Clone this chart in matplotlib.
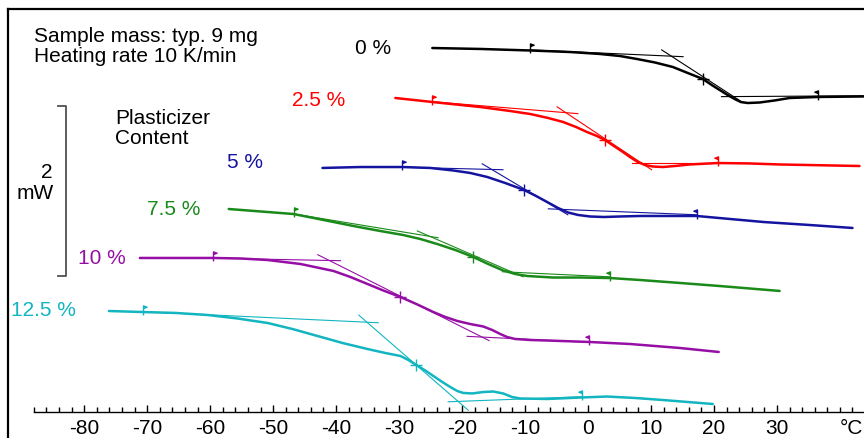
import numpy as np
import matplotlib.pyplot as plt
from matplotlib.path import Path
from matplotlib.ticker import FixedLocator

plt.rcParams['font.family'] = ['Liberation Sans', 'DejaVu Sans']
plt.rcParams['axes.unicode_minus'] = False

# DSC heat flow curves, temperature in °C, heat flow in mW (curves offset for stacking)
labels = ['0 %', '2.5 %', '5 %', '7.5 %', '10 %', '12.5 %']
colors = ['#000000', '#ff0000', '#1414a0', '#1a8a1a', '#960fa5', '#12b5c0']

t_0 = [-24.72, -17.12, -9.19, -2.85, 1.90, 5.07, 7.77, 10.62, 13.47, 15.85, 18.23,
       19.65, 20.92, 22.19, 23.30, 24.25, 25.36, 27.26, 29.64, 32.01, 36.45, 43.74]
q_0 = [4.282, 4.271, 4.253, 4.235, 4.212, 4.188, 4.153, 4.112, 4.059, 3.988, 3.918,
       3.847, 3.788, 3.729, 3.682, 3.647, 3.635, 3.641, 3.665, 3.694, 3.706, 3.712]

t_25 = [-30.59, -24.72, -17.12, -12.36, -9.19, -6.34, -3.96, -1.90, -0.16, 1.43, 2.69,
        4.12, 5.55, 6.66, 7.77, 9.03, 10.30, 11.89, 13.79, 16.16, 20.60, 25.67, 30.43, 43.11]
q_25 = [3.694, 3.647, 3.588, 3.541, 3.506, 3.459, 3.412, 3.353, 3.294, 3.247, 3.200,
        3.129, 3.059, 3.000, 2.947, 2.906, 2.888, 2.882, 2.894, 2.912, 2.929, 2.924, 2.912, 2.894]

t_5 = [-42.16, -36.13, -29.48, -25.04, -21.39, -18.70, -16.01, -13.15, -10.14, -8.24,
       -6.50, -4.75, -3.17, -1.58, 0.32, 2.54, 5.07, 8.24, 17.27, 22.50, 27.89, 35.18, 42.00]
q_5 = [2.871, 2.882, 2.882, 2.871, 2.841, 2.812, 2.765, 2.694, 2.612, 2.541,
       2.471, 2.400, 2.347, 2.318, 2.300, 2.294, 2.300, 2.306, 2.306, 2.271, 2.235, 2.200, 2.165]

t_75 = [-57.05, -51.98, -46.75, -42.00, -37.24, -32.96, -29.32, -26.62, -23.93, -21.08,
        -18.23, -15.85, -13.47, -11.57, -9.67, -5.55, -1.27, 3.49, 8.24, 14.58, 20.92, 30.43]
q_75 = [2.388, 2.359, 2.329, 2.259, 2.188, 2.129, 2.082, 2.035, 1.976, 1.906,
        1.824, 1.741, 1.665, 1.624, 1.600, 1.582, 1.582, 1.576, 1.553, 1.518, 1.482, 1.424]

t_10 = [-71.16, -65.45, -59.59, -55.15, -50.87, -45.64, -40.41, -37.72, -35.02, -32.49,
        -29.79, -27.10, -24.56, -22.66, -20.76, -18.70, -16.64, -15.21, -13.95, -12.84,
        -11.57, -9.19, -6.50, 0.16, 6.66, 14.58, 20.76]
q_10 = [1.812, 1.812, 1.812, 1.806, 1.788, 1.741, 1.659, 1.588, 1.506, 1.429,
        1.353, 1.265, 1.176, 1.118, 1.071, 1.035, 1.006, 0.965, 0.918, 0.882,
        0.859, 0.847, 0.841, 0.824, 0.800, 0.753, 0.706]

t_125 = [-76.07, -70.68, -65.45, -60.38, -55.63, -50.87, -46.91, -42.95, -38.99, -35.02,
         -32.17, -29.79, -28.53, -27.26, -25.83, -24.56, -23.14, -21.87, -20.76, -19.81,
         -18.38, -16.64, -15.06, -13.47, -12.04, -10.78, -6.50, -0.95, 3.01, 7.45, 11.89, 19.81]
q_125 = [1.188, 1.176, 1.165, 1.141, 1.100, 1.047, 0.976, 0.894, 0.812, 0.741,
         0.694, 0.659, 0.612, 0.553, 0.488, 0.424, 0.353, 0.294, 0.247, 0.224,
         0.218, 0.235, 0.241, 0.218, 0.176, 0.159, 0.153, 0.171, 0.182, 0.165, 0.141, 0.094]

# evaluation limits (flags) and glass transition midpoints
flag_start = [-9.2, -24.7, -29.5, -46.7, -59.6, -70.7]
flag_end = [36.5, 20.6, 17.3, 3.5, 0.2, -1.0]
tg_mid = [18.2, 2.7, -10.1, -18.2, -29.8, -27.3]

# tangents: baseline before, inflection tangent, baseline after
tan_t_0 = [[-9.2, 15.1], [11.7, 24.6], [21.2, 43.7]]
tan_q_0 = [[4.26, 4.18], [4.26, 3.64], [3.71, 3.72]]
tan_t_25 = [[-24.7, -1.6], [-4.9, 10.1], [7.0, 20.6]]
tan_q_25 = [[3.65, 3.51], [3.59, 2.85], [2.93, 2.93]]
tan_t_5 = [[-29.5, -13.5], [-16.8, -3.2], [-6.3, 17.3]]
tan_q_5 = [[2.88, 2.85], [2.92, 2.32], [2.39, 2.32]]
tan_t_75 = [[-46.7, -23.8], [-27.1, -10.3], [-13.6, 3.5]]
tan_q_75 = [[2.33, 2.05], [2.13, 1.59], [1.65, 1.59]]
tan_t_10 = [[-59.6, -39.3], [-42.9, -15.7], [-19.2, 0.2]]
tan_q_10 = [[1.81, 1.78], [1.85, 0.84], [0.89, 0.82]]
tan_t_125 = [[-70.7, -33.3], [-36.4, -19.0], [-22.2, -1.0]]
tan_q_125 = [[1.18, 1.05], [1.14, 0.02], [0.12, 0.18]]

# curve label positions
label_t = [-34.2, -42.8, -54.4, -65.8, -77.2, -86.4]
label_q = [4.29, 3.68, 2.95, 2.39, 1.82, 1.20]

temps = [t_0, t_25, t_5, t_75, t_10, t_125]
flows = [q_0, q_25, q_5, q_75, q_10, q_125]
tan_t = [tan_t_0, tan_t_25, tan_t_5, tan_t_75, tan_t_10, tan_t_125]
tan_q = [tan_q_0, tan_q_25, tan_q_5, tan_q_75, tan_q_10, tan_q_125]

# flag markers: small pennant on a stick
codes = [Path.MOVETO, Path.LINETO, Path.LINETO, Path.LINETO]
flag_right = Path([(0, -0.45), (0, 1), (0.55, 0.8), (0, 0.6)], codes)
flag_left = Path([(0, -0.45), (0, 1), (-0.55, 0.8), (0, 0.6)], codes)

fig = plt.figure(figsize=(8.64, 4.39), dpi=100)
# axes box runs past the right and bottom edges of the figure
ax = fig.add_axes([8 / 864, -21 / 439, 1.0, 450 / 439])
ax.set_xlim(-92.1, 45.1)
ax.set_ylim(-0.553, 4.741)

for i in range(len(labels)):
    c = colors[i]
    t = np.array(temps[i])
    q = np.array(flows[i])
    ax.plot(t, q, color=c, lw=1.8, solid_capstyle='round', solid_joinstyle='round', zorder=3)
    for tt, qq in zip(tan_t[i], tan_q[i]):
        ax.plot(tt, qq, color=c, lw=0.8, zorder=2)
    ax.plot(flag_start[i], np.interp(flag_start[i], t, q), marker=flag_right,
            ms=9.5, color=c, mfc=c, mec=c, mew=1, zorder=4)
    ax.plot(flag_end[i], np.interp(flag_end[i], t, q), marker=flag_left,
            ms=9.5, color=c, mfc=c, mec=c, mew=1, zorder=4)
    ax.plot(tg_mid[i], np.interp(tg_mid[i], t, q), marker='+', ms=8,
            color=c, mew=1, zorder=4)
    ax.text(label_t[i], label_q[i], labels[i], color=c, fontsize=15,
            ha='center', va='center')

# 2 mW scale bar
ax.plot([-84.2, -82.9, -82.9, -84.2], [3.6, 3.6, 1.6, 1.6], color='#505050', lw=1.3)

# frame and temperature axis
for side in ['top', 'left']:
    ax.spines[side].set_linewidth(1.6)
ax.spines['right'].set_visible(False)
ax.spines['bottom'].set_position(('data', 0))
ax.spines['bottom'].set_bounds(-88, 44)
ax.spines['bottom'].set_linewidth(1.0)

ax.xaxis.set_major_locator(FixedLocator(np.arange(-80, 31, 10)))
ax.xaxis.set_minor_locator(FixedLocator(np.arange(-88, 45, 2)))
ax.tick_params(axis='x', which='both', direction='in', width=1, labelsize=15, pad=4)
ax.tick_params(axis='x', which='major', length=5)
ax.tick_params(axis='x', which='minor', length=3.8)
ax.set_yticks([])
ax.text(41.8, -0.066, '°C', fontsize=15, ha='center', va='top')


def px_text(x, y, s, **kw):
    fig.text(x / 864, 1 - y / 439, s, fontsize=15, va='center', **kw)


px_text(34, 37, 'Sample mass: typ. 9 mg')
px_text(34, 57, 'Heating rate 10 K/min')
px_text(115, 119, 'Plasticizer')
px_text(115, 139, 'Content')
px_text(53, 172, '2', ha='right')
px_text(54, 194, 'mW', ha='right')

fig.savefig('out.png', dpi=100)
